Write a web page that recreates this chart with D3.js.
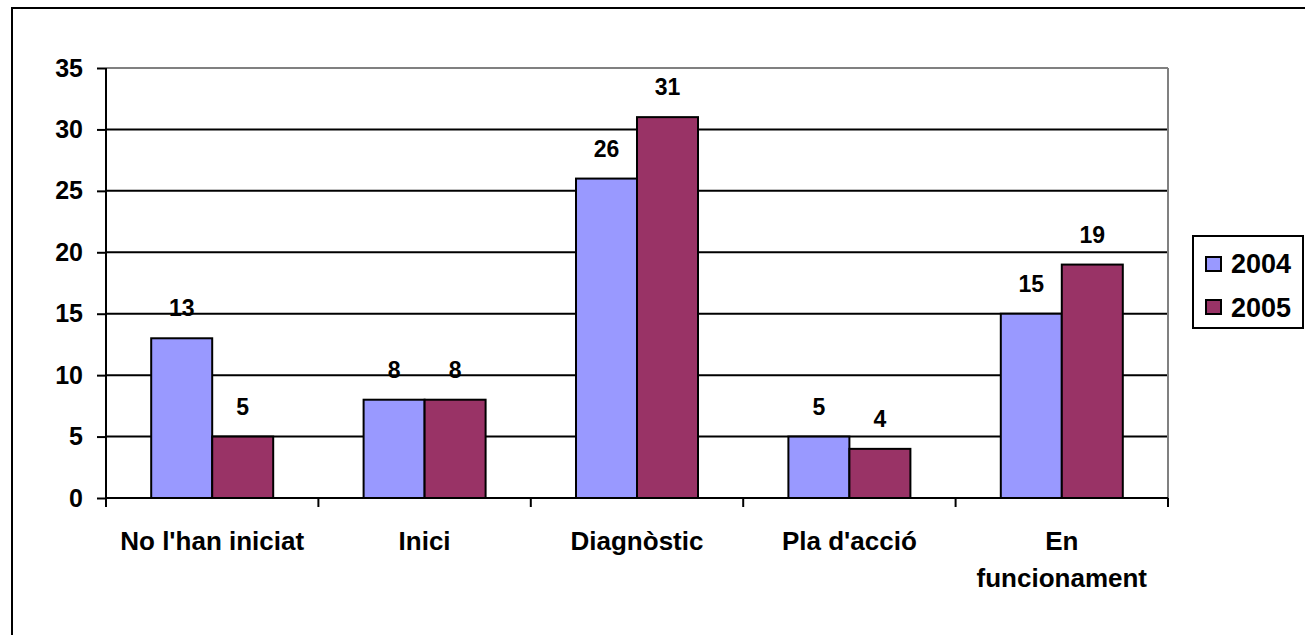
<!DOCTYPE html>
<html><head><meta charset="utf-8">
<script src="https://cdn.jsdelivr.net/npm/d3@7"></script>
<style>body{margin:0;background:#fff;}svg{display:block;}text{font-family:"Liberation Sans",Arial,sans-serif;font-weight:bold;fill:#000;}</style>
</head><body>
<svg id="c" width="1305" height="635"></svg>
<script>
const categories = [["No l'han iniciat"], ["Inici"], ["Diagnòstic"], ["Pla d'acció"], ["En", "funcionament"]];
const seriesNames = ["2004", "2005"];
const values2004 = [13, 8, 26, 5, 15];
const values2005 = [5, 8, 31, 4, 19];
const yTicks = [0, 5, 10, 15, 20, 25, 30, 35];
const colors = ["#9999FF", "#993366"];

const svg = d3.select("#c");
svg.append("rect").attr("x", 12).attr("y", 8).attr("width", 1310).attr("height", 650)
  .attr("fill", "#fff").attr("stroke", "#000").attr("stroke-width", 2);

const L = 106, R = 1168, T = 68, B = 498;
const x = d3.scaleBand().domain(d3.range(categories.length)).range([L, R]).padding(0);
const y = d3.scaleLinear().domain([0, 35]).range([B, T]);
const barW = 61;
const series = [values2004, values2005];

// gridlines
svg.append("g").selectAll("line").data(yTicks.filter(t => t > 0)).join("line")
  .attr("x1", L).attr("x2", R).attr("y1", d => y(d)).attr("y2", d => y(d))
  .attr("stroke", d => d === 35 ? "#808080" : "#000").attr("stroke-width", 2);
// right border
svg.append("line").attr("x1", R).attr("x2", R).attr("y1", T).attr("y2", B)
  .attr("stroke", "#808080").attr("stroke-width", 2);

// bars
series.forEach((vals, si) => {
  svg.append("g").selectAll("rect").data(vals).join("rect")
    .attr("x", (d, i) => x(i) + x.bandwidth() / 2 - barW + si * barW)
    .attr("y", d => y(d)).attr("width", barW).attr("height", d => y(0) - y(d))
    .attr("fill", colors[si]).attr("stroke", "#000").attr("stroke-width", 2);
  svg.append("g").selectAll("text").data(vals).join("text")
    .attr("x", (d, i) => x(i) + x.bandwidth() / 2 - barW / 2 + si * barW)
    .attr("y", d => y(d) - 22).attr("text-anchor", "middle").attr("font-size", 23)
    .text(d => d);
});

// y axis
const yAxis = svg.append("g").attr("transform", `translate(${L},0)`)
  .call(d3.axisLeft(y).tickValues(yTicks).tickSize(9).tickPadding(14));
yAxis.select(".domain").attr("stroke", "#000").attr("stroke-width", 2).attr("d", `M0,${T}V${B}`);
yAxis.selectAll(".tick line").attr("stroke", "#000").attr("stroke-width", 2);
yAxis.selectAll(".tick text").attr("font-size", 25).attr("font-family", "Liberation Sans, Arial, sans-serif")
  .attr("font-weight", "bold").attr("fill", "#000");

// x axis
svg.append("line").attr("x1", L).attr("x2", R).attr("y1", B).attr("y2", B)
  .attr("stroke", "#000").attr("stroke-width", 2);
svg.append("g").selectAll("line").data(d3.range(categories.length + 1)).join("line")
  .attr("x1", i => i < categories.length ? x(i) : R).attr("x2", i => i < categories.length ? x(i) : R)
  .attr("y1", B).attr("y2", B + 9).attr("stroke", "#000").attr("stroke-width", 2);
const cl = svg.append("g").selectAll("text").data(categories).join("text")
  .attr("x", (d, i) => x(i) + x.bandwidth() / 2).attr("y", 550)
  .attr("text-anchor", "middle").attr("font-size", 26);
cl.selectAll("tspan").data(d => d).join("tspan")
  .attr("x", function() { return d3.select(this.parentNode).attr("x"); })
  .attr("dy", (d, i) => i === 0 ? 0 : 37).text(d => d);

// legend
const lg = svg.append("g");
lg.append("rect").attr("x", 1193).attr("y", 236).attr("width", 110).attr("height", 92)
  .attr("fill", "#fff").attr("stroke", "#000").attr("stroke-width", 2);
seriesNames.forEach((s, i) => {
  lg.append("rect").attr("x", 1206).attr("y", 257 + i * 43).attr("width", 15).attr("height", 14)
    .attr("fill", colors[i]).attr("stroke", "#000").attr("stroke-width", 2);
  lg.append("text").attr("x", 1231).attr("y", 273 + i * 43.5).attr("font-size", 27).text(s);
});
</script>
</body></html>
